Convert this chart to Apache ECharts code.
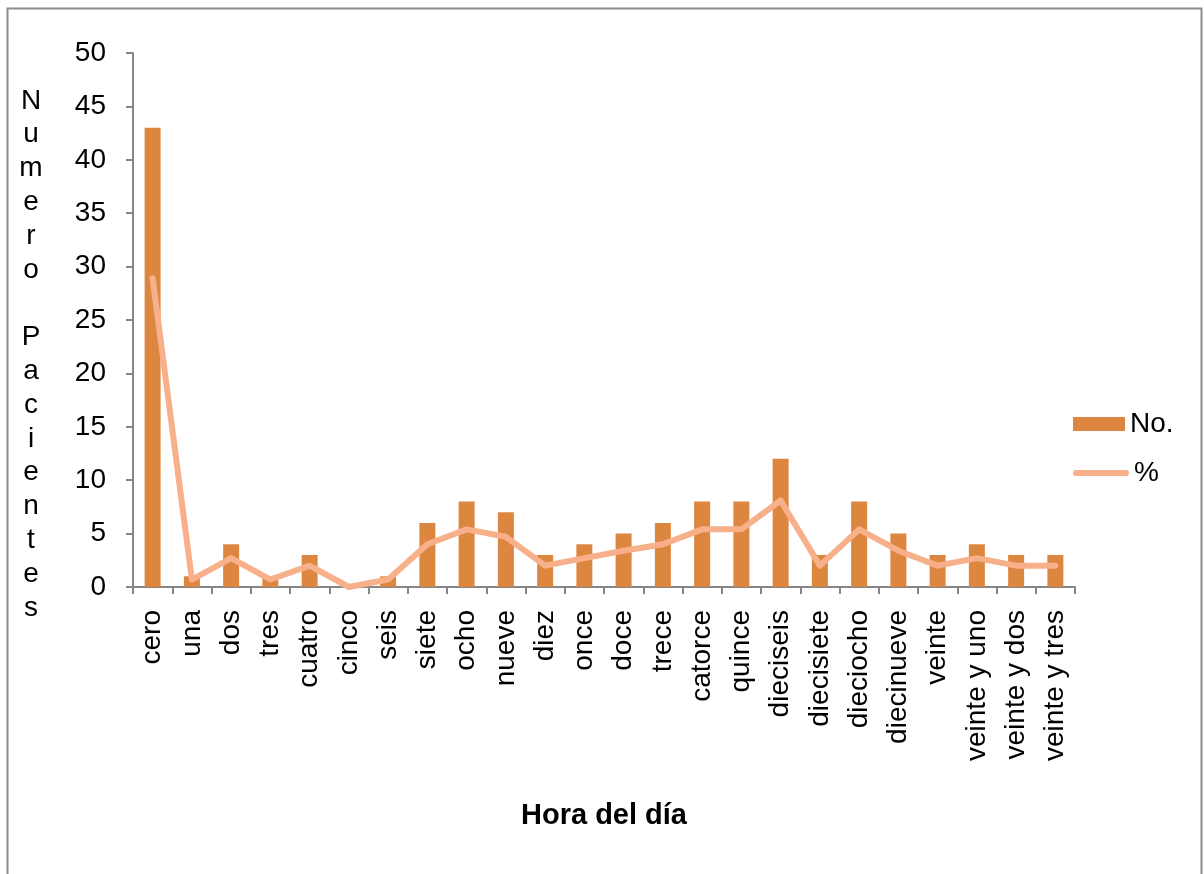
<!DOCTYPE html>
<html>
<head>
<meta charset="utf-8">
<script src="https://cdn.jsdelivr.net/npm/echarts@6/dist/echarts.min.js"></script>
<style>
  html, body { margin: 0; padding: 0; background: #fff; }
  #chart { width: 1204px; height: 874px; }
</style>
</head>
<body>
<div id="chart"></div>
<script>
// Hour-of-day categories
const horas = ['cero', 'una', 'dos', 'tres', 'cuatro', 'cinco', 'seis', 'siete', 'ocho', 'nueve',
  'diez', 'once', 'doce', 'trece', 'catorce', 'quince', 'dieciseis', 'diecisiete', 'dieciocho',
  'diecinueve', 'veinte', 'veinte y uno', 'veinte y dos', 'veinte y tres'];

// Number of patients per hour
const numeroPacientes = [43, 1, 4, 1, 3, 0, 1, 6, 8, 7, 3, 4, 5, 6, 8, 8, 12, 3, 8, 5, 3, 4, 3, 3];

// Share of patients per hour (%)
const porcentaje = [28.9, 0.7, 2.7, 0.7, 2.0, 0, 0.7, 4.0, 5.4, 4.7, 2.0, 2.7, 3.4, 4.0, 5.4, 5.4,
  8.1, 2.0, 5.4, 3.4, 2.0, 2.7, 2.0, 2.0];

// Y axis tick range
const yMin = 0, yMax = 50, yStep = 5;

const yTitle = 'Numero Pacientes';

const font = '"Liberation Sans", Arial, sans-serif';
const fs = 28;
const axisGray = '#868686';
const barColor = '#DD8640';
const lineColor = '#F7B08A';

// Rounded stroke used as the legend key of the line series
const lineKey = 'path://M3,0L51,0A3,3,0,0,1,51,6L3,6A3,3,0,0,1,3,0Z';

const legendText = { fontFamily: font, fontSize: fs, color: '#000', lineHeight: 14 };

const chart = echarts.init(document.getElementById('chart'));
chart.setOption({
  animation: false,
  backgroundColor: '#fff',
  textStyle: { fontFamily: font },
  grid: { left: 133, top: 53, right: 129, bottom: 287, containLabel: false },
  legend: [
    {
      orient: 'vertical',
      left: 1068,
      top: 405,
      itemWidth: 52,
      itemHeight: 14,
      textStyle: legendText,
      data: [{ name: 'No.', icon: 'rect' }]
    },
    {
      orient: 'vertical',
      left: 1068,
      top: 454,
      itemWidth: 56,
      itemHeight: 14,
      textStyle: legendText,
      data: [{ name: '%', icon: lineKey }]
    }
  ],
  xAxis: {
    type: 'category',
    data: horas,
    boundaryGap: true,
    axisLine: { lineStyle: { color: axisGray, width: 2 } },
    axisTick: { show: true, length: 7, lineStyle: { color: axisGray, width: 2 } },
    axisLabel: {
      rotate: 90,
      interval: 0,
      fontSize: fs,
      color: '#000',
      fontFamily: font,
      margin: 23
    },
    name: 'Hora del día',
    nameLocation: 'middle',
    nameGap: 214,
    nameTextStyle: { fontSize: 29, fontWeight: 'bold', color: '#000', fontFamily: font }
  },
  yAxis: {
    type: 'value',
    min: yMin,
    max: yMax,
    interval: yStep,
    splitLine: { show: false },
    axisLine: { show: true, lineStyle: { color: axisGray, width: 2 } },
    axisTick: { show: true, length: 7, lineStyle: { color: axisGray, width: 2 } },
    axisLabel: { fontSize: fs, color: '#000', fontFamily: font, margin: 27 }
  },
  graphic: [
    {
      type: 'rect',
      left: 5,
      top: 6,
      shape: { width: 1194, height: 880 },
      style: { fill: 'none', stroke: '#8c8c8c', lineWidth: 2 },
      silent: true
    },
    {
      type: 'text',
      x: 31,
      y: 84,
      style: {
        text: yTitle.split('').join('\n'),
        fontFamily: font,
        fontSize: fs,
        lineHeight: 33.8,
        fill: '#000',
        align: 'center',
        verticalAlign: 'top'
      }
    }
  ],
  series: [
    {
      name: 'No.',
      type: 'bar',
      data: numeroPacientes,
      barWidth: 16,
      itemStyle: { color: barColor }
    },
    {
      name: '%',
      type: 'line',
      data: porcentaje,
      symbol: 'none',
      lineStyle: { color: lineColor, width: 6, cap: 'round', join: 'round' },
      itemStyle: { color: lineColor }
    }
  ]
});
</script>
</body>
</html>
